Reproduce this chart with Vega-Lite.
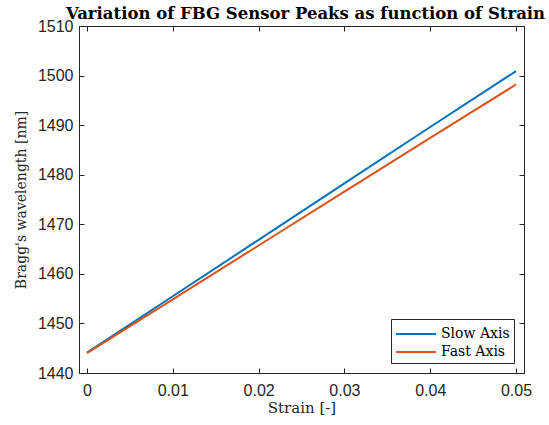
{
  "$schema": "https://vega.github.io/schema/vega-lite/v6.json",
  "autosize": "none",
  "padding": {"left": 79, "top": 26, "right": 25, "bottom": 52},
  "width": 445,
  "height": 347,
  "background": "white",
  "title": {
    "text": "Variation of FBG Sensor Peaks as function of Strain",
    "font": "DejaVu Serif",
    "fontSize": 16.5,
    "fontWeight": "bold",
    "color": "black",
    "anchor": "middle",
    "offset": 0,
    "dy": 4,
    "dx": 4
  },
  "config": {
    "view": {"stroke": "#262626", "strokeWidth": 1},
    "axis": {
      "domainColor": "#262626",
      "tickColor": "#262626",
      "labelColor": "#262626",
      "labelFont": "Liberation Sans",
      "labelFontSize": 16,
      "titleFont": "DejaVu Serif",
      "titleFontWeight": "normal",
      "titleFontSize": 15,
      "titleColor": "#262626",
      "grid": false,
      "tickSize": -5
    }
  },
  "data": {
    "values": [
      {"strain": 0.0, "wl": 1444.1, "series": "Slow Axis"},
      {"strain": 0.01, "wl": 1455.48, "series": "Slow Axis"},
      {"strain": 0.02, "wl": 1466.86, "series": "Slow Axis"},
      {"strain": 0.03, "wl": 1478.24, "series": "Slow Axis"},
      {"strain": 0.04, "wl": 1489.62, "series": "Slow Axis"},
      {"strain": 0.05, "wl": 1500.9, "series": "Slow Axis"},
      {"strain": 0.0, "wl": 1444.0, "series": "Fast Axis"},
      {"strain": 0.01, "wl": 1454.86, "series": "Fast Axis"},
      {"strain": 0.02, "wl": 1465.72, "series": "Fast Axis"},
      {"strain": 0.03, "wl": 1476.58, "series": "Fast Axis"},
      {"strain": 0.04, "wl": 1487.44, "series": "Fast Axis"},
      {"strain": 0.05, "wl": 1498.2, "series": "Fast Axis"}
    ]
  },
  "layer": [
    {
      "mark": {"type": "line", "strokeWidth": 2, "clip": true},
      "encoding": {
        "x": {
          "field": "strain", "type": "quantitative",
          "scale": {"domain": [-0.00093, 0.05093], "nice": false, "zero": false},
          "axis": {"orient": "bottom", "values": [0, 0.01, 0.02, 0.03, 0.04, 0.05], "format": "~g", "title": "Strain [-]", "labelPadding": 14, "titlePadding": 2}
        },
        "y": {
          "field": "wl", "type": "quantitative",
          "scale": {"domain": [1440, 1510], "nice": false, "zero": false},
          "axis": {"orient": "left", "values": [1440, 1450, 1460, 1470, 1480, 1490, 1500, 1510], "format": "d", "title": "Bragg's wavelength [nm]", "titleFontSize": 14, "labelPadding": 11, "titlePadding": 9}
        },
        "color": {
          "field": "series", "type": "nominal",
          "scale": {"domain": ["Slow Axis", "Fast Axis"], "range": ["#0072BD", "#D95319"]},
          "legend": {
            "title": null,
            "orient": "bottom-right",
            "offset": 10,
            "symbolType": "M-2,0H2",
            "symbolSize": 400,
            "symbolStrokeWidth": 2,
            "symbolFillColor": "transparent",
            "labelFont": "DejaVu Serif",
            "labelFontSize": 14,
            "labelColor": "black",
            "labelOffset": 14,
            "strokeColor": "#262626",
            "fillColor": "white",
            "padding": 4,
            "rowPadding": 0,
            "symbolOffset": 10
          }
        }
      }
    },
    {
      "mark": {"type": "line", "opacity": 0},
      "encoding": {
        "x": {
          "field": "strain", "type": "quantitative",
          "scale": {"domain": [-0.00093, 0.05093], "nice": false, "zero": false},
          "axis": {"orient": "top", "values": [0, 0.01, 0.02, 0.03, 0.04, 0.05], "labels": false, "title": null}
        },
        "y": {
          "field": "wl", "type": "quantitative",
          "scale": {"domain": [1440, 1510], "nice": false, "zero": false},
          "axis": {"orient": "right", "values": [1440, 1450, 1460, 1470, 1480, 1490, 1500, 1510], "labels": false, "title": null}
        },
        "detail": {"field": "series"}
      }
    }
  ],
  "resolve": {"scale": {"x": "independent", "y": "independent"}}
}
